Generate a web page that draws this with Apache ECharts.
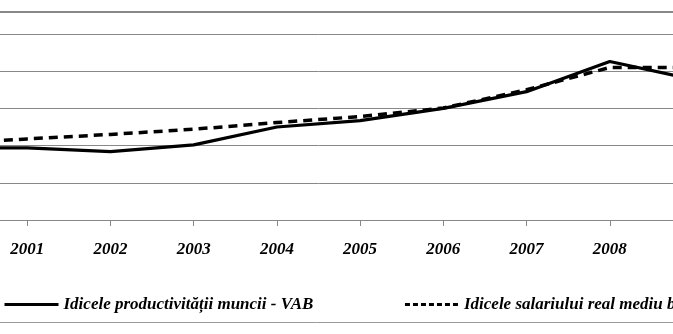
<!DOCTYPE html>
<html>
<head>
<meta charset="utf-8">
<script src="https://cdn.jsdelivr.net/npm/echarts@6/dist/echarts.min.js"></script>
<style>
html,body{margin:0;padding:0;background:#fff;overflow:hidden;width:673px;height:334px;position:relative;}
#c{position:absolute;left:-80px;top:0;width:793px;height:334px;}
</style>
</head>
<body>
<div id="c"></div>
<script>
var years = ['2000','2001','2002','2003','2004','2005','2006','2007','2008','2009'];
var productivitate = [97, 97, 92, 101, 125, 133.5, 150, 172.5, 213, 189];
var salariu = [102, 109, 115, 122, 131, 139, 150.5, 175, 205, 205];
var seriesNames = ['Idicele productivității muncii - VAB', 'Idicele salariului real mediu brut'];

var font = 'Liberation Serif, Times New Roman, serif';
var chart = echarts.init(document.getElementById('c'), null, {renderer:'canvas'});
chart.setOption({
  backgroundColor: '#fff',
  animation: false,
  grid: {left: 24, right: 19.5, top: 34, bottom: 114, containLabel: false},
  xAxis: {
    type: 'category',
    data: years,
    boundaryGap: false,
    axisLine: {lineStyle: {color: '#888', width: 1}},
    axisTick: {show: true, length: 6, lineStyle: {color: '#888'}},
    axisLabel: {color: '#000', fontFamily: font, fontSize: 17, fontWeight: 'bold', fontStyle: 'italic', margin: 21}
  },
  yAxis: {
    type: 'value',
    min: 0, max: 250, interval: 50,
    axisLine: {show: false},
    axisTick: {show: false},
    axisLabel: {show: false},
    splitLine: {lineStyle: {color: '#888', width: 1}}
  },
  legend: {
    left: 78, top: 291, width: 2000,
    itemWidth: 54, itemHeight: 18, itemGap: 90,
    itemStyle: {opacity: 0},
    textStyle: {color: '#000', fontFamily: font, fontSize: 17, fontWeight: 'bold', fontStyle: 'italic'},
    data: [
      {name: seriesNames[0], lineStyle: {width: 3, type: 'solid'}, itemStyle: {opacity: 0}},
      {name: seriesNames[1], lineStyle: {width: 3, type: [5, 3]}, itemStyle: {opacity: 0}}
    ]
  },
  graphic: [
    {type: 'line', shape: {x1: 0, y1: 12, x2: 793, y2: 12}, style: {stroke: '#888', lineWidth: 2}, silent: true},
    {type: 'line', shape: {x1: 0, y1: 322.5, x2: 793, y2: 322.5}, style: {stroke: '#999', lineWidth: 1}, silent: true}
  ],
  series: [
    {
      name: seriesNames[0], type: 'line', data: productivitate,
      symbol: 'none', smooth: false,
      lineStyle: {color: '#000', width: 3.2, type: 'solid'},
      itemStyle: {color: '#000'}
    },
    {
      name: seriesNames[1], type: 'line', data: salariu,
      symbol: 'none', smooth: false,
      lineStyle: {color: '#000', width: 3.5, type: [9, 6], cap: 'butt'},
      itemStyle: {color: '#000'}
    }
  ]
});
</script>
</body>
</html>
